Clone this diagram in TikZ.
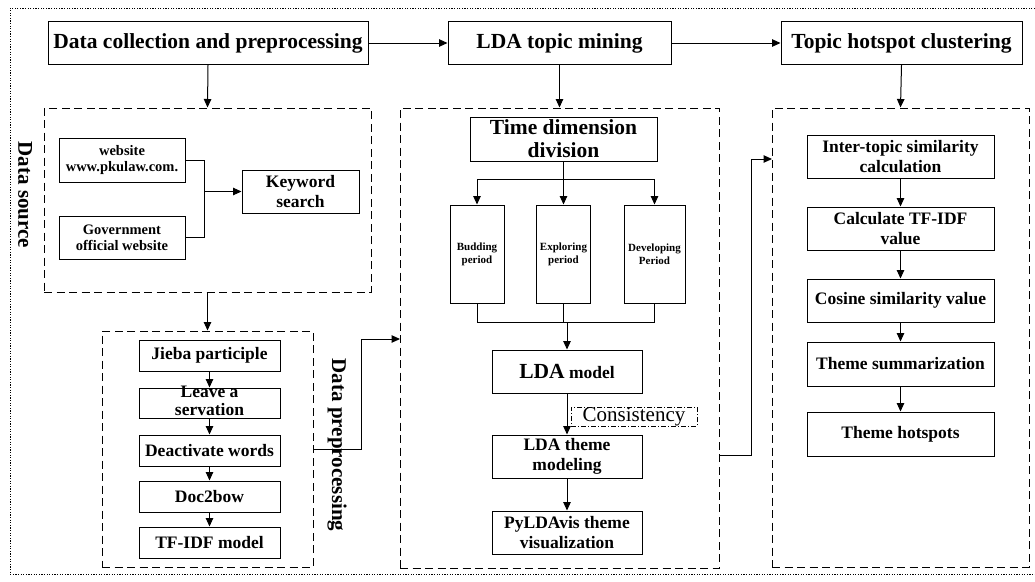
\documentclass[tikz,border=0pt]{standalone}
\usepackage{fontspec}
\setmainfont{Liberation Serif}
\usetikzlibrary{arrows.meta}
\newcommand\myfs[2]{\fontsize{#1}{#2}\selectfont}
\begin{document}
\begin{tikzpicture}[x=1pt,y=-1pt,
  box/.style={draw, line width=1pt, align=center, inner sep=0pt, font=\bfseries\myfs{17.5}{20}},
  bigbox/.style={box, font=\bfseries\myfs{21.5}{23}},
  smallbox/.style={box, font=\bfseries\myfs{14.5}{16}},
  tinybox/.style={box, font=\bfseries\myfs{11}{12.7}},
  group/.style={draw, line width=1pt, dash pattern=on 8pt off 4.5pt, inner sep=0pt},
  sidelabel/.style={rotate=-90, font=\bfseries\myfs{21}{23}},
  arr/.style={line width=1pt, -{Triangle[length=8.5pt,width=7.5pt]}},
  ln/.style={line width=1pt},
  outer/.style={line width=0.9pt, dash pattern=on 1.3pt off 1.3pt}]
\useasboundingbox (0,0) rectangle (1035,581);
\draw[outer] (1035,8) -- (10,8) -- (10,574) -- (1035,574);

% top row
\node[bigbox, minimum width=320, minimum height=43] (dc) at (208,43) {Data collection and preprocessing};
\node[bigbox, minimum width=223, minimum height=43] (lda) at (559.5,43) {LDA topic mining};
\node[bigbox, minimum width=241, minimum height=43] (thc) at (901.5,43) {Topic hotspot clustering};
\draw[arr] (dc.east) -- (lda.west);
\draw[arr] (lda.east) -- (thc.west);

% group boxes
\node[group, minimum width=327, minimum height=184] (ds) at (207.5,200) {};
\node[group, minimum width=211, minimum height=236] (pp) at (207.5,449) {};
\node[group, minimum width=319, minimum height=460] (ldab) at (559.5,338) {};
\node[group, minimum width=257, minimum height=459] (thb) at (900.5,337.5) {};
\draw[arr] (dc.south) -- (ds.north);
\draw[arr] (lda.south) -- (ldab.north);
\draw[arr] (thc.south) -- (thb.north);
\draw[arr] (ds.south) -- (pp.north);

% data source
\node[sidelabel] (dslab) at (25,195) {Data source};
\node[smallbox, minimum width=126, minimum height=44] (web) at (122,160) {website\\www.pkulaw.com.};
\node[smallbox, minimum width=126, minimum height=43] (gov) at (122,237.5) {Government\\official website};
\node[box, minimum width=117, minimum height=43] (kw) at (300.5,191.5) {Keyword\\search};
\coordinate (jn) at (204,191.5);
\draw[ln] (web.east) -- (204,160) |- (gov.east);
\draw[arr] (jn) -- (kw.west);

% data preprocessing
\node[sidelabel] (pplab) at (337,445) {Data preprocessing};
\node[box, minimum width=141, minimum height=31] (jieba) at (209.5,355.5) {Jieba participle};
\node[box, minimum width=141, minimum height=30] (leave) at (209.5,403) {\smash{\raisebox{-3.5pt}{\begin{tabular}{@{}c@{}}Leave a\\[-2pt]servation\end{tabular}}}};
\node[box, minimum width=141, minimum height=31] (deact) at (209.5,450.5) {Deactivate words};
\node[box, minimum width=141, minimum height=31] (doc) at (209.5,496.5) {Doc2bow};
\node[box, minimum width=141, minimum height=31] (tfidf) at (209.5,542.5) {TF-IDF model};
\draw[arr] (jieba.south) -- (leave.north);
\draw[arr] (leave.south) -- (deact.north);
\draw[arr] (deact.south) -- (doc.north);
\draw[arr] (doc.south) -- (tfidf.north);
\coordinate (ppin) at (400,339);
\draw[arr] (pp.east) -- (361,449) |- (ppin);

% LDA topic mining
\node[bigbox, minimum width=187, minimum height=44] (tdd) at (563.5,139) {Time dimension\\division};
\node[tinybox, minimum width=54, minimum height=98] (bud) at (477,254) {Budding\\period};
\node[tinybox, minimum width=54, minimum height=98] (exp) at (563.5,254) {Exploring\\period};
\node[tinybox, minimum width=61, minimum height=98] (dev) at (654.5,254) {Developing\\Period};
\coordinate (br) at (563.5,179);
\draw[ln] (tdd.south) -- (br);
\draw[arr] (br) -| (bud.north);
\draw[arr] (br) -| (dev.north);
\draw[arr] (br) -- (exp.north);
\coordinate (mg) at (567,322);
\draw[ln] (bud.south) |- (dev.south |- mg) -- (dev.south);
\draw[ln] (exp.south) -- (exp.south |- mg);

\node[box, minimum width=150, minimum height=43] (ldam) at (567,371.5) {{\myfs{21.5}{23}LDA} model};
\node[box, minimum width=150, minimum height=43] (ltm) at (567,456.5) {LDA theme\\modeling};
\node[box, minimum width=150, minimum height=43] (pyl) at (567,532.5) {PyLDAvis theme\\visualization};
\node[draw, line width=0.7pt, dash pattern=on 5pt off 2pt on 1pt off 2pt, inner sep=0pt,
      minimum width=126, minimum height=19, font=\myfs{21}{23}] (cons) at (634,416.5) {Consistency};
\draw[arr] (mg) -- (ldam.north);
\draw[arr] (ldam.south) -- (ltm.north);
\draw[arr] (ltm.south) -- (pyl.north);

% LDA to clustering
\coordinate (ldout) at (719,455);
\coordinate (thin) at (772,159);
\draw[arr] (ldout) -- (751,455) |- (thin);

% clustering
\node[box, minimum width=187, minimum height=43] (itc) at (900.5,156.5) {Inter-topic similarity\\calculation};
\node[box, minimum width=187, minimum height=43] (ctf) at (900.5,228.5) {Calculate TF-IDF\\value};
\node[box, minimum width=187, minimum height=43] (cos) at (900.5,300.5) {Cosine similarity value};
\node[box, minimum width=187, minimum height=44] (ths) at (900.5,364) {Theme summarization};
\node[box, minimum width=187, minimum height=44] (thh) at (900.5,434) {Theme hotspots};
\draw[arr] (itc.south) -- (ctf.north);
\draw[arr] (ctf.south) -- (cos.north);
\draw[arr] (cos.south) -- (ths.north);
\draw[arr] (ths.south) -- (thh.north);
\end{tikzpicture}
\end{document}
